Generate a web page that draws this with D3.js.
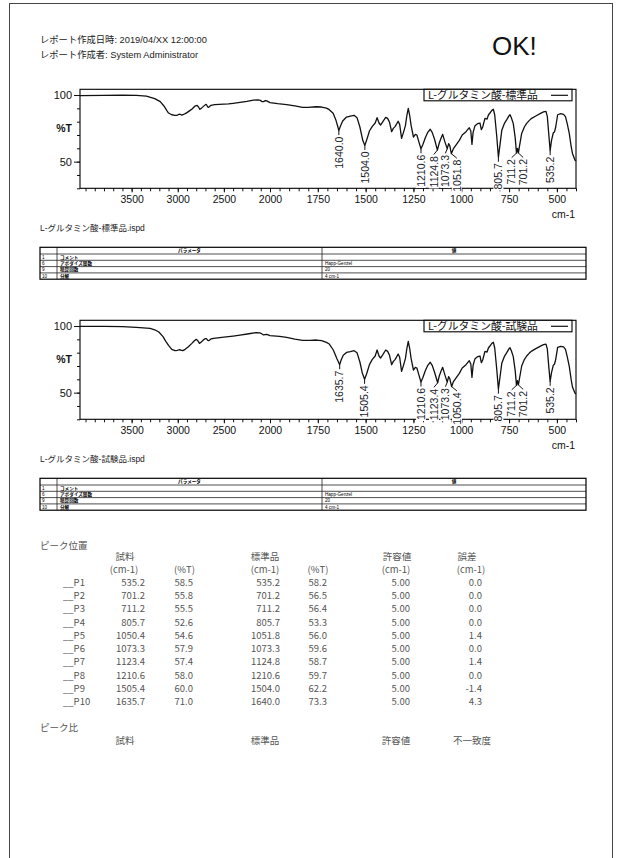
<!DOCTYPE html>
<html><head><meta charset="utf-8">
<script src="https://cdn.jsdelivr.net/npm/d3@7"></script>
<style>body{margin:0;background:#fff}svg{display:block}</style>
</head><body><svg id="c" width="621" height="858"></svg>
<script>
// ---------------- DATA ----------------
const reportDate = "レポート作成日時: 2019/04/XX 12:00:00";
const reportAuthor = "レポート作成者: System Administrator";
const verdict = "OK!";
const xTickLabels = [3500, 3000, 2500, 2000, 1750, 1500, 1250, 1000, 750, 500];
const yTickLabels = [100, 50];
const stdName = "L-グルタミン酸-標準品";
const smpName = "L-グルタミン酸-試験品";

const stdSpectrum = [[4060,99.6],[3800,99.8],[3600,99.9],[3450,99.7],[3340,99.2],[3250,97.3],[3190,95],[3150,91.8],[3120,88.5],[3100,86.5],[3065,85.2],[3030,84.7],[3010,84.8],[2990,85.4],[2975,85.6],[2960,85],[2945,85.2],[2920,86],[2900,86.8],[2870,88.3],[2845,89.5],[2815,91.6],[2790,92.2],[2775,91],[2760,89.3],[2745,90],[2725,91.3],[2700,92.8],[2690,92.9],[2675,91],[2665,90.8],[2640,92.3],[2600,92.8],[2500,93.2],[2450,93.3],[2400,93.8],[2325,94.5],[2250,95.3],[2180,96.2],[2130,96.4],[2105,96],[2085,95],[2070,95.1],[2050,95.8],[2035,95.6],[2000,94.3],[1960,93.5],[1913,92.8],[1870,91.8],[1830,90.8],[1800,90.8],[1760,91.2],[1730,91],[1705,90.2],[1690,89],[1670,86.3],[1655,81],[1645,76],[1640,73.3],[1632,76.5],[1620,80.5],[1600,83.5],[1580,84.2],[1560,84.8],[1545,83],[1530,76],[1515,66],[1504,62.2],[1495,66],[1480,73],[1465,76.5],[1450,79],[1440,83],[1430,79],[1422,77.5],[1410,80],[1395,83.2],[1385,82.5],[1375,79.5],[1364,72.5],[1355,75],[1345,76.5],[1330,80.3],[1322,78],[1312,67.5],[1302,72],[1292,77],[1284,85],[1277,90],[1270,85],[1262,77],[1250,68.5],[1240,70.5],[1232,70],[1222,65],[1210.6,59.7],[1200,63],[1188,68],[1175,72],[1162,74.3],[1152,72],[1140,67],[1124.8,58.7],[1115,64],[1105,68],[1097,70.5],[1088,66],[1073.3,59.6],[1066,63.5],[1060,62],[1051.8,56],[1040,60],[1025,63],[1010,66],[995,70],[975,72.5],[958,75.5],[950,73],[944,63],[938,72],[928,77],[915,78.5],[902,79],[895,74],[888,76],[876,82.5],[865,82],[858,85],[850,86.5],[840,88.5],[832,89.3],[825,85],[815,70],[805.7,53.3],[798,62],[788,73.5],[775,78.5],[762,81.5],[750,84.5],[745,85.2],[738,83],[728,78.5],[718,68],[711.2,56.4],[706,60],[701.2,56.5],[695,62],[684,71.2],[670,76],[658,78.7],[645,80.8],[632,82.5],[610,84.3],[588,86],[570,87.3],[557,87.7],[550,84],[542,70],[535.2,58.2],[528,66],[519,71.5],[512,72.5],[506,76],[496,85.2],[480,86],[465,85.5],[455,83.8],[445,78],[435,71],[425,61],[418,56],[405,51],[400,50.5]];

const smpSpectrum = [[4060,99.8],[3800,99.8],[3600,99.5],[3450,99],[3300,98.2],[3250,97.2],[3205,95.5],[3160,92],[3130,88.5],[3100,85.5],[3065,82.5],[3030,81.5],[3005,81.7],[2985,82.2],[2970,82],[2945,81.5],[2920,82.5],[2885,84.5],[2850,86.8],[2820,89],[2800,90],[2785,89.2],[2765,87],[2745,88],[2725,89.4],[2700,90.6],[2690,90.5],[2675,89.2],[2665,89],[2640,90.3],[2610,90.8],[2500,91.7],[2400,92.5],[2325,93.2],[2230,94.2],[2150,95],[2110,94.8],[2090,94.2],[2070,93.3],[2055,93.6],[2035,93.7],[2000,92.8],[1950,92.2],[1913,91.5],[1870,90.2],[1830,89.2],[1790,89.2],[1757,89.5],[1730,89],[1705,87.7],[1690,86.5],[1669,82],[1650,75.5],[1635.7,71],[1628,74.5],[1617,78],[1600,80.2],[1580,80.8],[1560,81.5],[1545,80],[1530,73],[1517,64.5],[1505.4,60],[1495,64],[1480,71],[1465,75],[1450,77.5],[1440,82],[1430,77.5],[1422,76],[1410,78.5],[1395,82],[1385,81],[1375,78],[1364,71],[1355,73.5],[1345,75],[1330,79],[1322,76.5],[1312,66],[1302,70.5],[1292,75.5],[1284,83.5],[1277,88.5],[1270,83.5],[1262,75.5],[1250,67],[1240,69],[1232,68.5],[1222,63.5],[1210.6,58],[1200,61.5],[1188,66.5],[1175,70.5],[1162,72.8],[1152,70.5],[1140,65.5],[1123.4,57.4],[1115,62.5],[1105,66.5],[1097,69],[1088,64.5],[1073.3,57.9],[1066,62],[1060,60.5],[1050.4,54.6],[1040,58.5],[1025,61.5],[1010,64.5],[995,68.5],[975,71],[958,74],[950,71.5],[944,61.5],[938,70.5],[928,75.5],[915,77],[902,77.5],[895,72.5],[888,74.5],[876,81],[865,80.5],[858,83.5],[850,85],[840,87],[832,87.8],[825,83.5],[815,68.5],[805.7,52.6],[798,61],[788,72],[775,77],[762,80],[750,83],[745,83.7],[738,81.5],[728,77],[718,66.5],[711.2,55.5],[706,59],[701.2,55.8],[695,61],[684,70],[670,74.8],[658,77.5],[645,79.5],[632,81.2],[610,83],[588,84.7],[570,86],[557,86.4],[550,82.8],[542,69],[535.2,58.5],[528,65],[519,70.5],[512,71.5],[506,75],[496,84],[480,84.8],[465,84.3],[455,82.5],[445,76.5],[435,69.5],[425,59.5],[418,54],[405,49.5],[400,49]];

const peakIds   = ["__P1","__P2","__P3","__P4","__P5","__P6","__P7","__P8","__P9","__P10"];
const smpPeakWn = [535.2, 701.2, 711.2, 805.7, 1050.4, 1073.3, 1123.4, 1210.6, 1505.4, 1635.7];
const smpPeakT  = [58.5, 55.8, 55.5, 52.6, 54.6, 57.9, 57.4, 58.0, 60.0, 71.0];
const stdPeakWn = [535.2, 701.2, 711.2, 805.7, 1051.8, 1073.3, 1124.8, 1210.6, 1504.0, 1640.0];
const stdPeakT  = [58.2, 56.5, 56.4, 53.3, 56.0, 59.6, 58.7, 59.7, 62.2, 73.3];
const tolerance = [5.00, 5.00, 5.00, 5.00, 5.00, 5.00, 5.00, 5.00, 5.00, 5.00];
const peakError = [0.0, 0.0, 0.0, 0.0, 1.4, 0.0, 1.4, 0.0, -1.4, 4.3];

const paramHeader = ["パラメータ", "値"];
const paramNo     = ["1", "6", "9", "10"];
const paramName   = ["コメント", "アポダイズ関数", "積算回数", "分解"];
const paramValue  = ["", "Happ-Genzel", "20", "4 cm-1"];

// ---------------- DRAW ----------------
const svg = d3.select("#c");
const SANS = "'Liberation Sans', Arial, sans-serif";
const JP = "'Noto Sans CJK JP', 'Liberation Sans', sans-serif";
const MIX = "'Liberation Sans', 'Noto Sans CJK JP', sans-serif";

svg.append("rect").attr("x", 9.5).attr("y", 3.5).attr("width", 603).attr("height", 900)
  .attr("fill", "none").attr("stroke", "#444").attr("stroke-width", 1);

svg.append("text").attr("x", 40).attr("y", 43).attr("font-family", MIX).attr("font-size", 9.3)
  .attr("fill", "#222").text(reportDate);
svg.append("text").attr("x", 40).attr("y", 57.5).attr("font-family", MIX).attr("font-size", 9.3)
  .attr("fill", "#222").text(reportAuthor);
svg.append("text").attr("x", 492).attr("y", 55).attr("font-family", SANS).attr("font-size", 26)
  .attr("fill", "#111").text(verdict);

function drawSpectrum(oy, spectrum, peakWn, peakT, name) {
  const x = d3.scaleLinear().domain([4060, 2000, 400]).range([80, 270, 576]);
  const y = d3.scaleLinear().domain([30, 104.3]).range([188.3 + oy, 89.3 + oy]);
  const g = svg.append("g");

  const minorX = d3.range(4000, 2000, -100).concat(d3.range(2000, 399, -50));
  g.append("g").attr("transform", `translate(0,${y(30)})`)
    .call(d3.axisBottom(x).tickValues(minorX).tickSize(3).tickFormat(""))
    .call(s => s.select(".domain").remove());
  const ax = g.append("g").attr("transform", `translate(0,${y(30)})`)
    .call(d3.axisBottom(x).tickValues(xTickLabels).tickSize(4).tickPadding(3).tickFormat(d3.format("d")))
    .call(s => s.select(".domain").remove());
  ax.selectAll("text").attr("font-family", SANS).attr("font-size", 10.5).attr("fill", "#111");

  g.append("g").attr("transform", "translate(80,0)")
    .call(d3.axisLeft(y).tickValues(d3.range(30, 101, 10)).tickSize(3).tickFormat(""))
    .call(s => s.select(".domain").remove());
  const ay = g.append("g").attr("transform", "translate(80,0)")
    .call(d3.axisLeft(y).tickValues(yTickLabels).tickSize(6).tickPadding(2))
    .call(s => s.select(".domain").remove());
  ay.selectAll("text").attr("font-family", SANS).attr("font-size", 11).attr("fill", "#111");
  g.append("text").attr("x", 72).attr("y", y(75) + 4).attr("text-anchor", "end")
    .attr("font-family", SANS).attr("font-size", 10.5).attr("font-weight", "bold").attr("fill", "#111").text("%T");
  g.selectAll(".tick line").attr("stroke", "#111");

  g.append("rect").attr("x", 80).attr("y", y(104.3)).attr("width", 496).attr("height", y(30) - y(104.3))
    .attr("fill", "none").attr("stroke", "#000").attr("stroke-width", 1.1);

  g.append("text").attr("x", 575).attr("y", y(30) + 30).attr("text-anchor", "end")
    .attr("font-family", SANS).attr("font-size", 10.5).attr("fill", "#111").text("cm-1");

  const line = d3.line().x(d => x(d[0])).y(d => y(d[1]));
  g.append("path").datum(spectrum).attr("d", line).attr("fill", "none")
    .attr("stroke", "#111").attr("stroke-width", 1.3).attr("stroke-linejoin", "round");

  const lg = g.append("g");
  lg.append("rect").attr("x", 424).attr("y", y(104.3)).attr("width", 148).attr("height", 11.5)
    .attr("fill", "#fff").attr("stroke", "#000").attr("stroke-width", 1.1);
  lg.append("text").attr("x", 428).attr("y", y(104.3) + 10).attr("font-family", JP).attr("font-size", 10.8)
    .attr("fill", "#111").text(name);
  lg.append("line").attr("x1", 551).attr("x2", 568).attr("y1", y(104.3) + 6).attr("y2", y(104.3) + 6)
    .attr("stroke", "#111").attr("stroke-width", 1.2);

  const peaks = peakWn.map((w, i) => ({ w, t: peakT[i], px: x(w), py: y(peakT[i]) }))
    .sort((a, b) => a.px - b.px);
  const gap = 11.5;
  let clusters = [];
  const layout = c => {
    const m = d3.mean(c.items, d => d.px);
    c.items.forEach((d, i) => d.lx = m - (c.items.length - 1) / 2 * gap + i * gap);
    c.start = c.items[0].lx; c.end = c.items[c.items.length - 1].lx;
  };
  peaks.forEach(p => {
    const c = { items: [p] }; layout(c); clusters.push(c);
    while (clusters.length > 1) {
      const a = clusters[clusters.length - 2], b = clusters[clusters.length - 1];
      if (b.start - a.end < gap) {
        const m = { items: a.items.concat(b.items) };
        layout(m);
        clusters.splice(clusters.length - 2, 2, m);
      } else break;
    }
  });
  const fmt = d3.format(".1f");
  peaks.forEach(p => {
    g.append("line").attr("x1", p.px).attr("y1", p.py).attr("x2", p.lx).attr("y2", p.py + 4.5)
      .attr("stroke", "#111").attr("stroke-width", 1);
    const lab = g.append("g").attr("transform", `translate(${p.lx},${p.py + 6}) rotate(-90)`);
    const bg = lab.append("rect").attr("fill", "#fff");
    const t = lab.append("text").attr("text-anchor", "end").attr("dy", "0.35em")
      .attr("font-family", SANS).attr("font-size", 10.5).attr("fill", "#1a1a2a").text(fmt(p.w));
    const len = t.node().getComputedTextLength();
    bg.attr("x", -len - 1).attr("y", -5).attr("width", len + 1).attr("height", 10);
  });
}

function drawParamTable(top, fileName) {
  const g = svg.append("g");
  g.append("text").attr("x", 40).attr("y", top - 16).attr("font-family", MIX).attr("font-size", 8.5)
    .attr("fill", "#222").text(fileName);
  const cols = [40, 57, 322, 586];
  const rowsY = [top, top + 6.7];
  paramNo.forEach((d, i) => rowsY.push(top + 6.7 + (i + 1) * 6.3));
  const bottom = rowsY[rowsY.length - 1];
  rowsY.slice(1, -1).forEach(yy => g.append("line").attr("x1", cols[0]).attr("x2", cols[3])
    .attr("y1", yy).attr("y2", yy).attr("stroke", "#222").attr("stroke-width", 0.8));
  g.append("line").attr("x1", cols[1]).attr("x2", cols[1]).attr("y1", top).attr("y2", bottom)
    .attr("stroke", "#222").attr("stroke-width", 0.8);
  g.append("line").attr("x1", cols[2]).attr("x2", cols[2]).attr("y1", top).attr("y2", bottom)
    .attr("stroke", "#222").attr("stroke-width", 0.8);
  g.append("rect").attr("x", cols[0]).attr("y", top).attr("width", cols[3] - cols[0]).attr("height", bottom - top)
    .attr("fill", "none").attr("stroke", "#000").attr("stroke-width", 1.2);
  const fs = 4.6;
  g.append("text").attr("x", (cols[1] + cols[2]) / 2).attr("y", top + 5.0).attr("text-anchor", "middle")
    .attr("font-family", JP).attr("font-size", fs).attr("font-weight", "bold").text(paramHeader[0]);
  g.append("text").attr("x", (cols[2] + cols[3]) / 2).attr("y", top + 5.0).attr("text-anchor", "middle")
    .attr("font-family", JP).attr("font-size", fs).attr("font-weight", "bold").text(paramHeader[1]);
  paramNo.forEach((d, i) => {
    const yy = rowsY[i + 1] + 4.8;
    g.append("text").attr("x", 42).attr("y", yy).attr("font-family", SANS).attr("font-size", fs).text(d);
    g.append("text").attr("x", 60).attr("y", yy).attr("font-family", JP).attr("font-size", fs).attr("font-weight", "bold").text(paramName[i]);
    g.append("text").attr("x", 325).attr("y", yy).attr("font-family", SANS).attr("font-size", fs).text(paramValue[i]);
  });
}

drawSpectrum(0, stdSpectrum, stdPeakWn, stdPeakT, stdName);
drawParamTable(247.3, stdName + ".ispd");
drawSpectrum(231, smpSpectrum, smpPeakWn, smpPeakT, smpName);
drawParamTable(478.3, smpName + ".ispd");

// ---------------- PEAK TABLE ----------------
const tg = svg.append("g").attr("font-family", JP).attr("fill", "#555").attr("font-size", 9.5);
tg.append("text").attr("x", 40).attr("y", 548.5).text("ピーク位置");
const hdr1 = [["試料", 125], ["標準品", 265], ["許容値", 397], ["誤差", 467]];
const hdr2 = [["(cm-1)", 124], ["(%T)", 184.5], ["(cm-1)", 265], ["(%T)", 318], ["(cm-1)", 396], ["(cm-1)", 471]];
hdr1.forEach(h => tg.append("text").attr("x", h[1]).attr("y", 559.5).attr("text-anchor", "middle").text(h[0]));
hdr2.forEach(h => tg.append("text").attr("x", h[1]).attr("y", 572.8).attr("text-anchor", "middle").text(h[0]));
const f1 = d3.format(".1f"), f2 = d3.format(".2f");
peakIds.forEach((id, i) => {
  const yy = 582.5 + i * 13.24 + 3.5;
  tg.append("text").attr("x", 63).attr("y", yy).text(id);
  const cells = [[f1(smpPeakWn[i]), 145], [f1(smpPeakT[i]), 193], [f1(stdPeakWn[i]), 280],
                 [f1(stdPeakT[i]), 327], [f2(tolerance[i]), 410], [f1(peakError[i]).replace("−", "-"), 482]];
  cells.forEach(c => tg.append("text").attr("x", c[1]).attr("y", yy).attr("text-anchor", "end").text(c[0]));
});
tg.append("text").attr("x", 40).attr("y", 730.8).text("ピーク比");
const hdr3 = [["試料", 125], ["標準品", 265], ["許容値", 396], ["不一致度", 472]];
hdr3.forEach(h => tg.append("text").attr("x", h[1]).attr("y", 743.5).attr("text-anchor", "middle").text(h[0]));
</script></body></html>
